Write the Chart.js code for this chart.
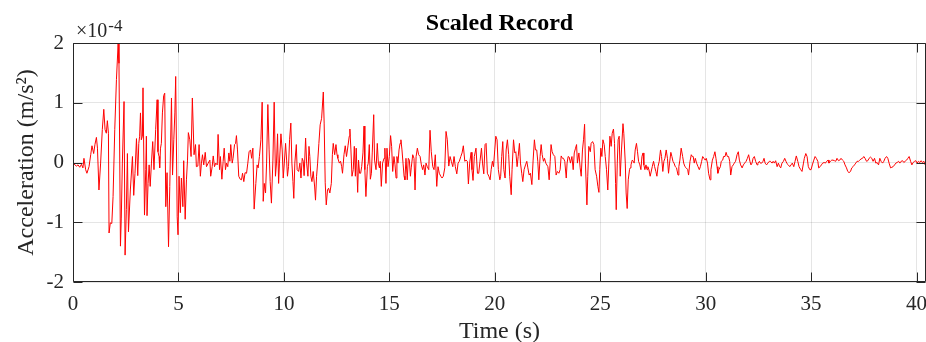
<!DOCTYPE html>
<html>
<head>
<meta charset="utf-8">
<script src="https://cdn.jsdelivr.net/npm/chart.js@4/dist/chart.umd.min.js"></script>
<style>
  html, body { margin: 0; padding: 0; background: #fff; }
  #wrap { width: 926px; height: 342px; }
</style>
</head>
<body>
<div id="wrap"><canvas id="recordChart" width="926" height="342"></canvas></div>
<script>
// ===== Data, acceleration in units of 1e-4 m/s^2 =====
const timeS = [
  0.00, 0.16, 0.24, 0.32, 0.40, 0.47, 0.52, 0.60, 0.66, 0.76, 0.84, 0.90, 0.98, 1.04, 1.11, 1.16, 1.23, 1.31, 1.39, 1.46,
  1.52, 1.58, 1.63, 1.68, 1.71, 1.77, 1.84, 1.90, 1.98, 2.06, 2.14, 2.18, 2.25, 2.29, 2.34, 2.42, 2.47, 2.53, 2.58, 2.63,
  2.72, 2.82, 2.88, 2.94, 3.01, 3.07, 3.12, 3.16, 3.20, 3.24, 3.29, 3.32, 3.39, 3.45, 3.48, 3.51, 3.56, 3.61, 3.66, 3.72,
  3.78, 3.84, 3.92, 3.99, 4.03, 4.08, 4.11, 4.15, 4.19, 4.24, 4.30, 4.35, 4.40, 4.46, 4.53, 4.59, 4.67, 4.72, 4.78, 4.83,
  4.87, 4.94, 4.98, 5.03, 5.09, 5.14, 5.21, 5.25, 5.32, 5.38, 5.43, 5.47, 5.54, 5.60, 5.66, 5.74, 5.81, 5.85, 5.92, 5.98,
  6.04, 6.09, 6.14, 6.20, 6.27, 6.33, 6.41,
  6.49, 6.53, 6.60, 6.65, 6.71, 6.77, 6.84, 6.88, 6.95, 6.99, 7.06, 7.12, 7.17, 7.23, 7.28, 7.34, 7.39, 7.44, 7.48, 7.55,
  7.59, 7.66, 7.71, 7.75, 7.80, 7.86, 7.93, 7.99, 8.04, 8.10, 8.16, 8.23, 8.29, 8.35, 8.42, 8.47, 8.53, 8.59, 8.67, 8.73,
  8.78, 8.84, 8.91, 8.97, 9.02, 9.07, 9.13, 9.18, 9.24, 9.30, 9.35, 9.41, 9.48, 9.54, 9.60, 9.65, 9.70, 9.75, 9.79, 9.86,
  9.92, 9.97, 10.02, 10.08, 10.13, 10.17, 10.22, 10.27, 10.33, 10.38, 10.43, 10.47, 10.52, 10.59, 10.63, 10.70, 10.76, 10.81, 10.87, 10.92,
  10.96, 11.03, 11.08, 11.14, 11.19, 11.23, 11.28, 11.33, 11.39, 11.46, 11.50, 11.55, 11.60, 11.66, 11.72, 11.79, 11.87, 11.91, 11.96, 12.01,
  12.07, 12.12, 12.18, 12.25, 12.30, 12.34, 12.41, 12.47, 12.52, 12.56, 12.63, 12.69, 12.74, 12.78, 12.85, 12.91, 12.97, 13.04, 13.10,
  13.13, 13.18, 13.23, 13.29, 13.34, 13.39, 13.43, 13.50, 13.54, 13.59, 13.64, 13.69, 13.75, 13.80, 13.84, 13.89, 13.96, 14.00, 14.05, 14.10,
  14.15, 14.19, 14.26, 14.30, 14.37, 14.43, 14.48, 14.53, 14.57, 14.62, 14.68, 14.75, 14.79, 14.84, 14.89, 14.94, 15.00, 15.06, 15.11, 15.16,
  15.22, 15.27, 15.32, 15.36, 15.41, 15.46, 15.51, 15.55, 15.60, 15.65, 15.70, 15.74, 15.79, 15.85, 15.90, 15.95, 16.00, 16.04, 16.11, 16.17,
  16.22, 16.27, 16.33, 16.39, 16.46, 16.52, 16.58, 16.63, 16.69, 16.74, 16.80, 16.87, 16.93, 16.99, 17.06, 17.12, 17.18, 17.25, 17.31, 17.37,
  17.44, 17.50, 17.56, 17.63, 17.69, 17.75, 17.82, 17.88, 17.94, 18.01, 18.07, 18.13, 18.20, 18.26, 18.32, 18.39, 18.45, 18.51, 18.58, 18.64,
  18.70, 18.75, 18.81, 18.88, 18.92, 18.97, 19.03, 19.11, 19.18, 19.24, 19.30, 19.37, 19.42, 19.48, 19.54, 19.59, 19.65, 19.72,
  19.78, 19.83, 19.89, 19.94, 20.00, 20.05, 20.11, 20.17, 20.24, 20.28, 20.33, 20.38, 20.43, 20.49, 20.54, 20.60, 20.66, 20.71, 20.78, 20.82,
  20.89, 20.95, 21.00, 21.06, 21.11, 21.17, 21.22, 21.28, 21.33, 21.39, 21.46, 21.52, 21.57, 21.63, 21.69, 21.76, 21.82, 21.88, 21.93, 21.99,
  22.04, 22.09, 22.15, 22.20, 22.25, 22.31, 22.36, 22.42, 22.52, 22.58, 22.63, 22.67, 22.72, 22.78, 22.85, 22.91, 22.97, 23.04, 23.10, 23.15,
  23.21, 23.26, 23.32, 23.39, 23.43, 23.48, 23.53, 23.59, 23.66, 23.72, 23.77, 23.83, 23.88, 23.92, 23.99, 24.05, 24.10, 24.16, 24.21, 24.26,
  24.30, 24.37, 24.41, 24.46, 24.53, 24.57, 24.64, 24.70, 24.76, 24.83, 24.89, 24.94, 24.98, 25.03, 25.08, 25.13, 25.19, 25.24, 25.30, 25.36,
  25.41, 25.46, 25.52, 25.57, 25.63, 25.68, 25.73, 25.76, 25.81, 25.85, 25.90, 25.95, 26.01, 26.08, 26.12, 26.19, 26.23, 26.28, 26.33, 26.39,
  26.42, 26.46, 26.52, 26.57, 26.61, 26.66, 26.72, 26.77, 26.82, 26.88, 26.93, 26.98, 27.03, 27.07, 27.12, 27.17, 27.22, 27.26, 27.31, 27.37,
  27.47, 27.53, 27.58, 27.64, 27.69, 27.74, 27.80, 27.86, 27.91, 27.97, 28.02, 28.07, 28.13, 28.19, 28.24, 28.29, 28.35, 28.40, 28.45, 28.50,
  28.56, 28.62, 28.69, 28.73, 28.78, 28.84, 28.91, 28.96, 29.02, 29.08, 29.15, 29.19, 29.26, 29.32, 29.37, 29.41, 29.46, 29.51, 29.57, 29.64,
  29.70, 29.75, 29.81, 29.86, 29.92, 29.98, 30.03, 30.09, 30.14, 30.21, 30.25, 30.32, 30.38, 30.44, 30.49, 30.54, 30.58, 30.63, 30.70, 30.74,
  30.81, 30.85, 30.92, 30.97, 31.03, 31.09, 31.14, 31.19, 31.25, 31.31, 31.36, 31.42, 31.49, 31.55, 31.60, 31.66, 31.73, 31.79, 31.85, 31.92,
  31.98, 32.04, 32.10, 32.15, 32.20, 32.25, 32.31, 32.37, 32.44, 32.48, 32.55, 32.59, 32.66, 32.72, 32.77, 32.82, 32.89, 32.95, 33.02,
  33.07, 33.15, 33.20, 33.26, 33.32, 33.39, 33.45, 33.50, 33.56, 33.62, 33.69, 33.75, 33.81, 33.86, 33.92, 33.99, 34.05, 34.11, 34.18, 34.24,
  34.30, 34.37, 34.43, 34.51, 34.57, 34.64, 34.68, 34.75, 34.81, 34.87, 34.94, 35.00, 35.06, 35.13, 35.19, 35.25, 35.32, 35.36, 35.43, 35.49,
  35.55, 35.62, 35.68, 35.74, 35.81, 35.85, 35.92, 35.98, 36.04, 36.11, 36.17, 36.23, 36.30, 36.36, 36.42, 36.49, 36.55, 36.61, 36.68, 36.74,
  36.80, 36.87, 36.93, 36.99, 37.06, 37.12, 37.18, 37.25, 37.31, 37.37, 37.44, 37.50, 37.56, 37.63, 37.69, 37.75, 37.82, 37.88, 37.94, 38.01,
  38.07, 38.13, 38.20, 38.26, 38.32, 38.39, 38.45, 38.51, 38.58, 38.64, 38.70, 38.77, 38.83, 38.89, 38.96, 39.02, 39.08, 39.15, 39.21, 39.27,
  39.34, 39.40, 39.46, 39.53, 39.59, 39.65, 39.72, 39.78, 39.84, 39.91, 39.97, 40.03, 40.09, 40.16, 40.22, 40.28, 40.35, 40.41, 40.46
];

const accel = [
  -0.01, -0.06, -0.04, -0.08, -0.03, -0.09, 0.07, -0.12, -0.18, -0.07, 0.13, 0.28, 0.15, 0.30, 0.42, 0.24, -0.46, -0.01, 0.55, 0.89,
  0.55, 0.49, 0.70, 0.49, -1.18, -1.01, -1.02, -0.57, 0.55, 1.39, 1.99, 1.66, -1.40, -0.93, -0.01, 1.02, -1.55, -0.79, 0.15, -1.16,
  -0.46, 0.10, -0.55, -0.18, 0.40, -0.22, 0.32, 0.44, 0.83, 0.38, 0.44, 1.25, -0.88, -0.12, 0.44, -0.89, -0.35, -0.04, -0.40, -0.01,
  0.35, -0.12, 0.55, 1.05, 0.18, 0.10, -0.09, 0.24, 0.32, 0.83, 1.12, 1.16, -0.74, -0.17, -1.41, -0.40, 1.08, -0.21, 0.38, 0.83,
  1.44, -0.91, -1.21, -0.23, -0.84, -0.26, -0.74, 0.03, -0.95, -0.29, 0.04, 0.50, 0.38, 0.10, 1.08, 0.13, 0.30, -0.07, -0.06, 0.30,
  -0.23, -0.01, 0.13, -0.04, 0.17, -0.07, -0.01,
  0.04, -0.23, -0.07, 0.11, -0.07, -0.01, -0.04, 0.47, -0.12, 0.10, -0.28, 0.02, 0.24, -0.12, -0.01, -0.07, 0.16, 0.02, 0.30, -0.01,
  0.07, 0.30, 0.32, 0.45, 0.21, -0.23, -0.28, -0.29, -0.18, -0.32, -0.17, -0.18, -0.01, 0.18, 0.21, 0.07, 0.24, -0.78, -0.35, -0.04,
  -0.09, 0.10, 0.38, 1.01, -0.65, -0.35, -0.51, -0.01, 0.97, 0.21, -0.32, -0.68, 0.04, 1.01, -0.23, -0.01, 0.48, -0.35, -0.01, 0.48,
  0.21, -0.26, -0.01, 0.32, 0.04, -0.23, -0.07, 0.38, 0.66, -0.01, -0.32, -0.60, -0.01, 0.30, -0.12, -0.15, -0.01, -0.26, 0.07, 0.02,
  -0.22, 0.41, -0.01, -0.23, 0.27, 0.10, -0.23, -0.32, -0.15, -0.41, -0.63, -0.23, -0.01, 0.32, 0.63, 0.74, 1.18, 0.66, -0.34, -0.71,
  -0.46, -0.43, -0.51, -0.35, 0.13, 0.32, 0.13, 0.30, 0.13, 0.07, -0.01, 0.02, -0.07, -0.18, 0.13, 0.28, 0.10, 0.28, 0.44,
  0.56, 0.21, -0.23, -0.12, 0.27, -0.23, 0.24, -0.50, 0.04, -0.18, -0.18, -0.07, 0.16, 0.61, -0.12, -0.57, -0.07, -0.01, 0.30, -0.28,
  -0.18, 0.16, 0.80, 0.04, -0.12, 0.32, -0.01, -0.09, 0.02, -0.40, -0.01, 0.07, 0.24, -0.35, 0.24, -0.07, 0.10, 0.45, 0.27, -0.15,
  0.10, -0.04, -0.26, 0.10, -0.01, 0.21, 0.32, 0.38, 0.21, -0.01, -0.23, -0.29, 0.07, -0.29, 0.07, 0.04, -0.23, -0.09, 0.13, 0.07,
  -0.46, 0.10, 0.24, 0.13, 0.10, -0.04, -0.12, -0.04, -0.21, -0.01, -0.07, -0.12, 0.54, 0.18, -0.07, -0.12, 0.13, -0.40, -0.07, -0.18,
  -0.23, -0.26, -0.23, -0.09, 0.52, 0.38, -0.06, 0.10, 0.02, -0.07, 0.10, -0.07, -0.19, -0.01, 0.02, 0.10, 0.16, 0.28, 0.02, 0.04,
  0.02, -0.36, -0.01, 0.17, -0.12, -0.30, 0.10, 0.24, -0.18, -0.18, 0.02, 0.24, -0.01, -0.19, 0.30, 0.32, -0.18, -0.23,
  -0.29, -0.12, 0.02, -0.07, 0.21, 0.44, 0.38, -0.12, -0.29, -0.23, 0.10, 0.35, -0.12, -0.26, 0.21, 0.38, 0.13, -0.23, -0.54, -0.12,
  0.38, 0.16, 0.18, -0.07, 0.10, 0.32, -0.01, -0.18, -0.32, -0.12, -0.04, 0.02, -0.09, -0.21, -0.18, -0.37, 0.04, 0.38, 0.21, 0.21,
  0.02, -0.29, 0.10, 0.30, 0.13, 0.02, 0.07, -0.01, -0.07, -0.29, 0.02, 0.30, 0.18, 0.13, 0.10, -0.21, -0.15, -0.18, -0.12, 0.11,
  0.07, 0.07, 0.02, -0.26, -0.01, 0.10, 0.09, -0.01, 0.10, -0.12, 0.16, 0.24, 0.30, -0.01, 0.16, -0.09, -0.23, 0.21, 0.38, 0.64,
  -0.01, -0.71, -0.23, 0.27, 0.18, 0.32, 0.35, 0.30, -0.12, -0.23, -0.40, -0.50, -0.12, 0.24, 0.10, 0.38, 0.30, 0.10, -0.12, -0.46,
  -0.01, 0.44, 0.27, 0.49, 0.56, 0.32, -0.35, -0.79, -0.01, 0.38, 0.44, -0.23, 0.21, 0.65, 0.49, -0.01, -0.51, -0.77, -0.29, -0.12,
  -0.09, -0.04, 0.04, 0.02, -0.01, 0.21, 0.32, 0.18, 0.02, -0.04, -0.12, 0.10, 0.16, -0.04, -0.12, -0.04, -0.12, -0.07, -0.12, -0.23,
  -0.07, 0.02, -0.07, -0.15, -0.23, -0.07, 0.02, 0.21, 0.10, -0.15, 0.02, 0.07, 0.21, 0.07, -0.18, -0.01, 0.17, 0.10, 0.02, -0.01,
  -0.07, -0.09, -0.21, -0.07, 0.04, 0.24, 0.10, -0.01, -0.07, -0.09, -0.12, -0.21, 0.02, 0.13, 0.10, 0.10, -0.01, 0.07, -0.01, -0.07,
  -0.12, -0.07, 0.02, 0.10, 0.07, 0.04, 0.07, -0.01, -0.18, -0.29, -0.12, 0.04, 0.10, 0.18, 0.07, -0.07, -0.18, -0.12, -0.07, 0.02,
  0.04, 0.10, 0.10, 0.17, 0.10, 0.10, 0.02, -0.21, -0.07, -0.04, -0.01, 0.02, 0.13, 0.18, 0.04, -0.04, -0.09, -0.04, -0.01, 0.02,
  0.07, 0.13, 0.02, -0.04, -0.01, 0.07, 0.10, 0.02, -0.04, -0.01, 0.02, -0.01, -0.01, 0.02, 0.07, -0.01, -0.04, -0.01, 0.02,
  0.02, -0.01, 0.02, -0.01, 0.03, -0.07, -0.01, -0.06, -0.09, -0.01, 0.02, 0.07, 0.02, -0.02, -0.04, -0.07, -0.04, -0.01, -0.07, 0.02,
  0.11, 0.02, -0.07, -0.12, -0.15, -0.01, 0.07, 0.15, 0.10, -0.07, -0.12, -0.12, -0.04, 0.04, 0.10, 0.07, 0.02, -0.09, -0.07, -0.04,
  -0.01, 0.00, -0.01, 0.02, 0.04, -0.01, 0.02, 0.04, 0.04, 0.03, 0.02, 0.07, 0.03, 0.04, 0.07, 0.04, 0.02, -0.04, -0.09, -0.15,
  -0.17, -0.15, -0.09, -0.07, -0.04, -0.01, 0.02, 0.02, 0.04, 0.06, 0.07, 0.10, 0.07, 0.02, 0.03, 0.07, 0.09, 0.07, 0.02, 0.07,
  -0.01, 0.00, -0.04, 0.07, 0.02, -0.01, 0.02, 0.07, 0.10, 0.07, -0.01, -0.09, -0.08, -0.07, -0.04, -0.01, 0.00, 0.02, -0.01, 0.02,
  0.03, 0.00, 0.02, 0.04, 0.07, 0.10, 0.02, -0.04, 0.00, 0.02, 0.03, -0.01, 0.02, 0.00, 0.03, 0.00, 0.02, -0.04, -0.07
];

const xTicks = [0, 5, 10, 15, 20, 25, 30, 35, 40];
const yTicks = [-2, -1, 0, 1, 2];
const xMax = 40.45;

const points = timeS.map((t, i) => ({ x: t, y: accel[i] }));

const axisColor = "#262626";
const serif = "'Liberation Serif', 'Times New Roman', serif";

// khung kiểu MATLAB: viền hộp, vạch chia hướng vào trong, nhãn x10^-4
const matlabFrame = {
    id: "matlabFrame",
    afterDatasetsDraw(chart) {
        const { ctx, chartArea: a, scales } = chart;
        const L = Math.round(a.left) + 0.5, R = Math.round(a.right) - 0.5;
        const T = Math.round(a.top) + 0.5, B = Math.round(a.bottom) - 0.5;
        const tick = 9;
        ctx.save();
        ctx.strokeStyle = axisColor;
        ctx.lineWidth = 1;
        ctx.beginPath();
        ctx.rect(L, T, R - L, B - T);
        xTicks.forEach(v => {
            const x = Math.round(scales.x.getPixelForValue(v)) + 0.5;
            ctx.moveTo(x, B); ctx.lineTo(x, B - tick);
            ctx.moveTo(x, T); ctx.lineTo(x, T + tick);
        });
        yTicks.forEach(v => {
            const y = Math.round(scales.y.getPixelForValue(v)) + 0.5;
            ctx.moveTo(L, y); ctx.lineTo(L + tick, y);
            ctx.moveTo(R, y); ctx.lineTo(R - tick, y);
        });
        ctx.stroke();

        // nhân tử ×10^-4
        ctx.fillStyle = axisColor;
        ctx.textBaseline = "alphabetic";
        ctx.textAlign = "left";
        ctx.font = "20px " + serif;
        ctx.fillText("×10", 76, 37);
        const w = ctx.measureText("×10").width;
        ctx.font = "17px " + serif;
        ctx.fillText("-4", 77 + w, 31);
        ctx.restore();
    }
};

const chart = new Chart(document.getElementById("recordChart"), {
    type: "line",
    data: {
        datasets: [{
            label: "Scaled Record",
            data: points,
            borderColor: "#ff0000",
            borderWidth: 1,
            pointRadius: 0,
            tension: 0,
            fill: false
        }]
    },
    options: {
        responsive: false,
        animation: false,
        layout: { padding: 0 },
        plugins: {
            legend: { display: false },
            tooltip: { enabled: false },
            title: {
                display: true,
                fullSize: false,
                text: "Scaled Record",
                color: "#000",
                font: { family: serif, size: 24, weight: "bold", lineHeight: 1 },
                padding: { top: 12, bottom: 7 }
            }
        },
        scales: {
            x: {
                type: "linear",
                min: 0,
                max: xMax,
                afterFit: s => { s.height = 60; s.paddingLeft = 0; s.paddingRight = 0; },
                afterBuildTicks: s => { s.ticks = xTicks.map(v => ({ value: v })); },
                ticks: { color: axisColor, font: { family: serif, size: 21 }, padding: 10, maxRotation: 0 },
                grid: { color: "rgba(38,38,38,0.12)", drawTicks: false },
                border: { display: false },
                title: {
                    display: true,
                    text: "Time (s)",
                    color: axisColor,
                    font: { family: serif, size: 24, lineHeight: 1 },
                    padding: { top: 0, bottom: -2 }
                }
            },
            y: {
                min: -2,
                max: 2,
                afterFit: s => { s.width = 73; },
                afterBuildTicks: s => { s.ticks = yTicks.map(v => ({ value: v })); },
                ticks: { color: axisColor, font: { family: serif, size: 21 }, padding: 9 },
                grid: { color: "rgba(38,38,38,0.12)", drawTicks: false },
                border: { display: false },
                title: {
                    display: true,
                    text: "Acceleration (m/s²)",
                    color: axisColor,
                    font: { family: serif, size: 24, lineHeight: 1 },
                    padding: { top: 15, bottom: 0 }
                }
            }
        }
    },
    plugins: [matlabFrame]
});
</script>
</body>
</html>
